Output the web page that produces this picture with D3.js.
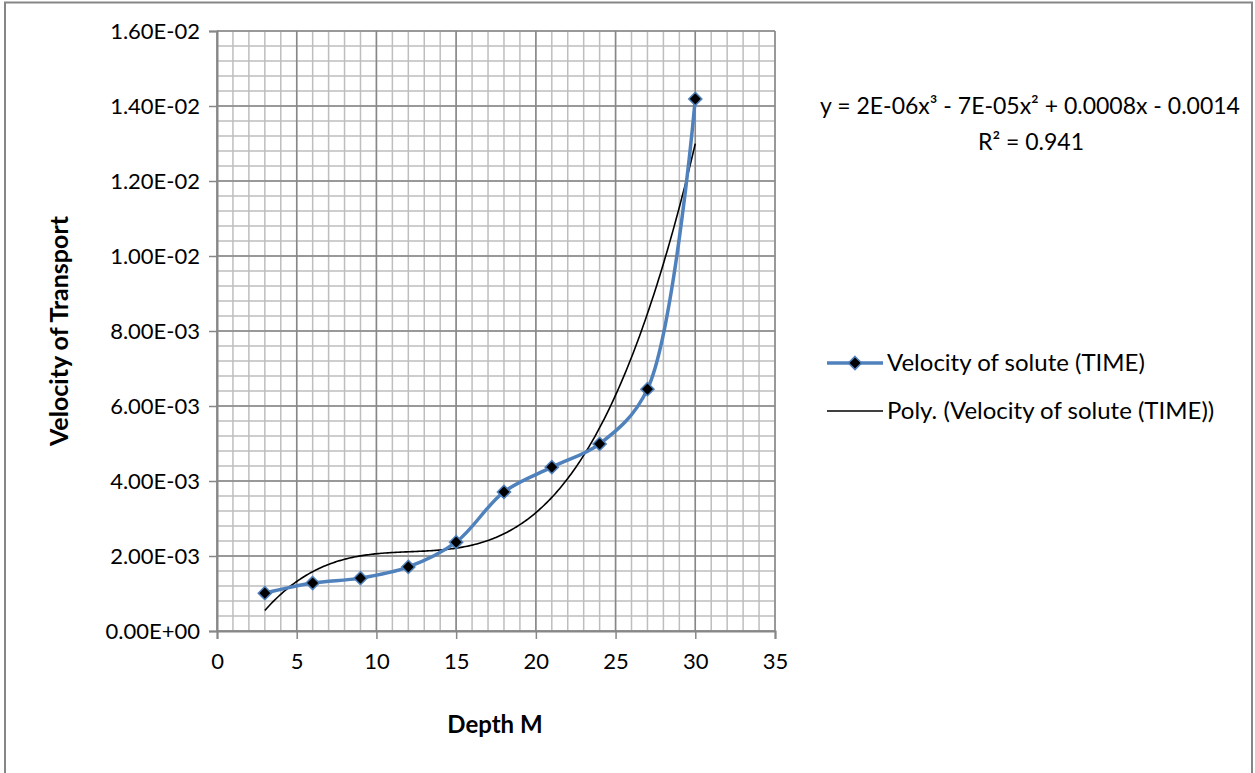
<!DOCTYPE html>
<html lang="en">
<head>
<meta charset="UTF-8">
<title>Velocity of Transport</title>
<script src="https://cdn.jsdelivr.net/npm/d3@7"></script>
<style>
    body { margin: 0; background: #fff; }
    svg { display: block; font-family: Lato, "Open Sans", sans-serif; }
    .tick text { font-size: 22px; fill: #000; }
</style>
</head>
<body>
<div id="chart"></div>
<script>
"use strict";

// data
var depth = [3, 6, 9, 12, 15, 18, 21, 24, 27, 30];
var velocity = [0.00101, 0.00128, 0.00141, 0.00171, 0.00237, 0.00371, 0.00437, 0.00499, 0.00645, 0.01419];
var xTicks = [0, 5, 10, 15, 20, 25, 30, 35];
var yTicks = [0, 0.002, 0.004, 0.006, 0.008, 0.010, 0.012, 0.014, 0.016];
var seriesName = "Velocity of solute (TIME)";
var trendName = "Poly. (Velocity of solute (TIME))";
var equationText = "y = 2E-06x\u00B3 - 7E-05x\u00B2 + 0.0008x - 0.0014";
var rSquaredText = "R\u00B2 = 0.941";

var W = 1255, H = 773;
var plot = { left: 217, top: 31, right: 775, bottom: 631 };

var blue = "#4F81BD";
var majorGrid = "#878787";
var minorGrid = "#BEBEBE";

var svg = d3.select("#chart").append("svg")
    .attr("width", W)
    .attr("height", H);

// chart border (bottom edge falls below the picture)
svg.append("rect")
    .attr("x", 5).attr("y", 2.5)
    .attr("width", 1247).attr("height", 780)
    .attr("fill", "#fff")
    .attr("stroke", "#868686")
    .attr("stroke-width", 2);

var x = d3.scaleLinear().domain([0, 35]).range([plot.left, plot.right]);
var y = d3.scaleLinear().domain([0, 0.016]).range([plot.bottom, plot.top]);

// minor grid
var g = svg.append("g");
g.selectAll("line.xminor")
    .data(d3.range(0, 36, 1))
    .enter().append("line")
    .attr("x1", function(d) { return x(d); })
    .attr("x2", function(d) { return x(d); })
    .attr("y1", plot.top).attr("y2", plot.bottom)
    .attr("stroke", minorGrid).attr("stroke-width", 1.5);

g.selectAll("line.yminor")
    .data(d3.range(0, 41, 1).map(function(i) { return i * 0.0004; }))
    .enter().append("line")
    .attr("y1", function(d) { return y(d); })
    .attr("y2", function(d) { return y(d); })
    .attr("x1", plot.left).attr("x2", plot.right)
    .attr("stroke", minorGrid).attr("stroke-width", 1.5);

// major grid
g.selectAll("line.xmajor")
    .data(xTicks)
    .enter().append("line")
    .attr("x1", function(d) { return x(d); })
    .attr("x2", function(d) { return x(d); })
    .attr("y1", plot.top).attr("y2", plot.bottom)
    .attr("stroke", majorGrid).attr("stroke-width", 1.5);

g.selectAll("line.ymajor")
    .data(yTicks)
    .enter().append("line")
    .attr("y1", function(d) { return y(d); })
    .attr("y2", function(d) { return y(d); })
    .attr("x1", plot.left).attr("x2", plot.right)
    .attr("stroke", majorGrid).attr("stroke-width", 1.5);

// axes
function sci(d) {
    var parts = d.toExponential(2).split("e");
    var e = +parts[1];
    var sign = e < 0 ? "-" : "+";
    var digits = String(Math.abs(e));
    if (digits.length < 2) digits = "0" + digits;
    return parts[0] + "E" + sign + digits;
}

var xAxis = svg.append("g")
    .attr("transform", "translate(0," + plot.bottom + ")")
    .call(d3.axisBottom(x).tickValues(xTicks).tickSize(8).tickPadding(14).tickFormat(d3.format("d")));

var yAxis = svg.append("g")
    .attr("transform", "translate(" + plot.left + ",0)")
    .call(d3.axisLeft(y).tickValues(yTicks).tickSize(8).tickPadding(9).tickFormat(sci));

[xAxis, yAxis].forEach(function(a) {
    a.select(".domain").attr("stroke", majorGrid).attr("stroke-width", 2);
    a.selectAll(".tick line").attr("stroke", majorGrid).attr("stroke-width", 1.5);
    a.selectAll(".tick text").attr("font-family", "Lato, sans-serif");
});

// axis titles
svg.append("text")
    .attr("x", (plot.left + plot.right) / 2 - 1)
    .attr("y", 733)
    .attr("text-anchor", "middle")
    .attr("font-weight", "bold")
    .attr("font-size", 24)
    .text("Depth M");

svg.append("text")
    .attr("transform", "translate(68,331) rotate(-90)")
    .attr("text-anchor", "middle")
    .attr("font-weight", "bold")
    .attr("font-size", 25)
    .text("Velocity of Transport");

// polynomial trendline (least squares, order 3)
function polyFit(xs, ys, order) {
    var n = order + 1;
    var A = [], b = [];
    for (var i = 0; i < n; i++) {
        A.push([]);
        for (var j = 0; j < n; j++) {
            A[i].push(d3.sum(xs, function(v) { return Math.pow(v, i + j); }));
        }
        b.push(d3.sum(xs, function(v, k) { return Math.pow(v, i) * ys[k]; }));
    }
    // gaussian elimination
    for (var c = 0; c < n; c++) {
        var p = c;
        for (var r = c + 1; r < n; r++) if (Math.abs(A[r][c]) > Math.abs(A[p][c])) p = r;
        var tmp = A[c]; A[c] = A[p]; A[p] = tmp;
        var tb = b[c]; b[c] = b[p]; b[p] = tb;
        for (var r2 = c + 1; r2 < n; r2++) {
            var f = A[r2][c] / A[c][c];
            for (var k = c; k < n; k++) A[r2][k] -= f * A[c][k];
            b[r2] -= f * b[c];
        }
    }
    var coef = new Array(n).fill(0);
    for (var r3 = n - 1; r3 >= 0; r3--) {
        var s = b[r3];
        for (var k2 = r3 + 1; k2 < n; k2++) s -= A[r3][k2] * coef[k2];
        coef[r3] = s / A[r3][r3];
    }
    return coef;
}

var coef = polyFit(depth, velocity, 3);
function trend(v) { return coef[0] + coef[1] * v + coef[2] * v * v + coef[3] * v * v * v; }

var trendX = d3.range(d3.min(depth), d3.max(depth) + 0.001, 0.1);

svg.append("path")
    .datum(trendX)
    .attr("fill", "none")
    .attr("stroke", "#000")
    .attr("stroke-width", 1.6)
    .attr("d", d3.line()
        .x(function(d) { return x(d); })
        .y(function(d) { return y(trend(d)); }));

// data series, smoothed
var points = depth.map(function(d, i) { return [d, velocity[i]]; });

svg.append("path")
    .datum(points)
    .attr("fill", "none")
    .attr("stroke", blue)
    .attr("stroke-width", 3.5)
    .attr("d", d3.line()
        .curve(d3.curveCatmullRom.alpha(0.5))
        .x(function(d) { return x(d[0]); })
        .y(function(d) { return y(d[1]); }));

var diamond = d3.symbol().type(d3.symbolDiamond2).size(110);

svg.selectAll("path.marker")
    .data(points)
    .enter().append("path")
    .attr("class", "marker")
    .attr("transform", function(d) { return "translate(" + x(d[0]) + "," + y(d[1]) + ")"; })
    .attr("d", diamond)
    .attr("fill", "#000")
    .attr("stroke", blue)
    .attr("stroke-width", 1.5);

// equation label
svg.append("text")
    .attr("x", 1030).attr("y", 114)
    .attr("text-anchor", "middle")
    .attr("font-size", 23)
    .text(equationText);

svg.append("text")
    .attr("x", 1031).attr("y", 150)
    .attr("text-anchor", "middle")
    .attr("font-size", 23)
    .text(rSquaredText);

// legend
var legend = svg.append("g").attr("transform", "translate(827,0)");

legend.append("line")
    .attr("x1", 0).attr("x2", 56)
    .attr("y1", 363).attr("y2", 363)
    .attr("stroke", blue).attr("stroke-width", 3.5);

legend.append("path")
    .attr("transform", "translate(28,363)")
    .attr("d", diamond)
    .attr("fill", "#000")
    .attr("stroke", blue)
    .attr("stroke-width", 1.5);

legend.append("text")
    .attr("x", 60).attr("y", 371)
    .attr("font-size", 24)
    .text(seriesName);

legend.append("line")
    .attr("x1", 0).attr("x2", 56)
    .attr("y1", 411).attr("y2", 411)
    .attr("stroke", "#000").attr("stroke-width", 1.6);

legend.append("text")
    .attr("x", 60).attr("y", 419)
    .attr("font-size", 24)
    .text(trendName);
</script>
</body>
</html>
